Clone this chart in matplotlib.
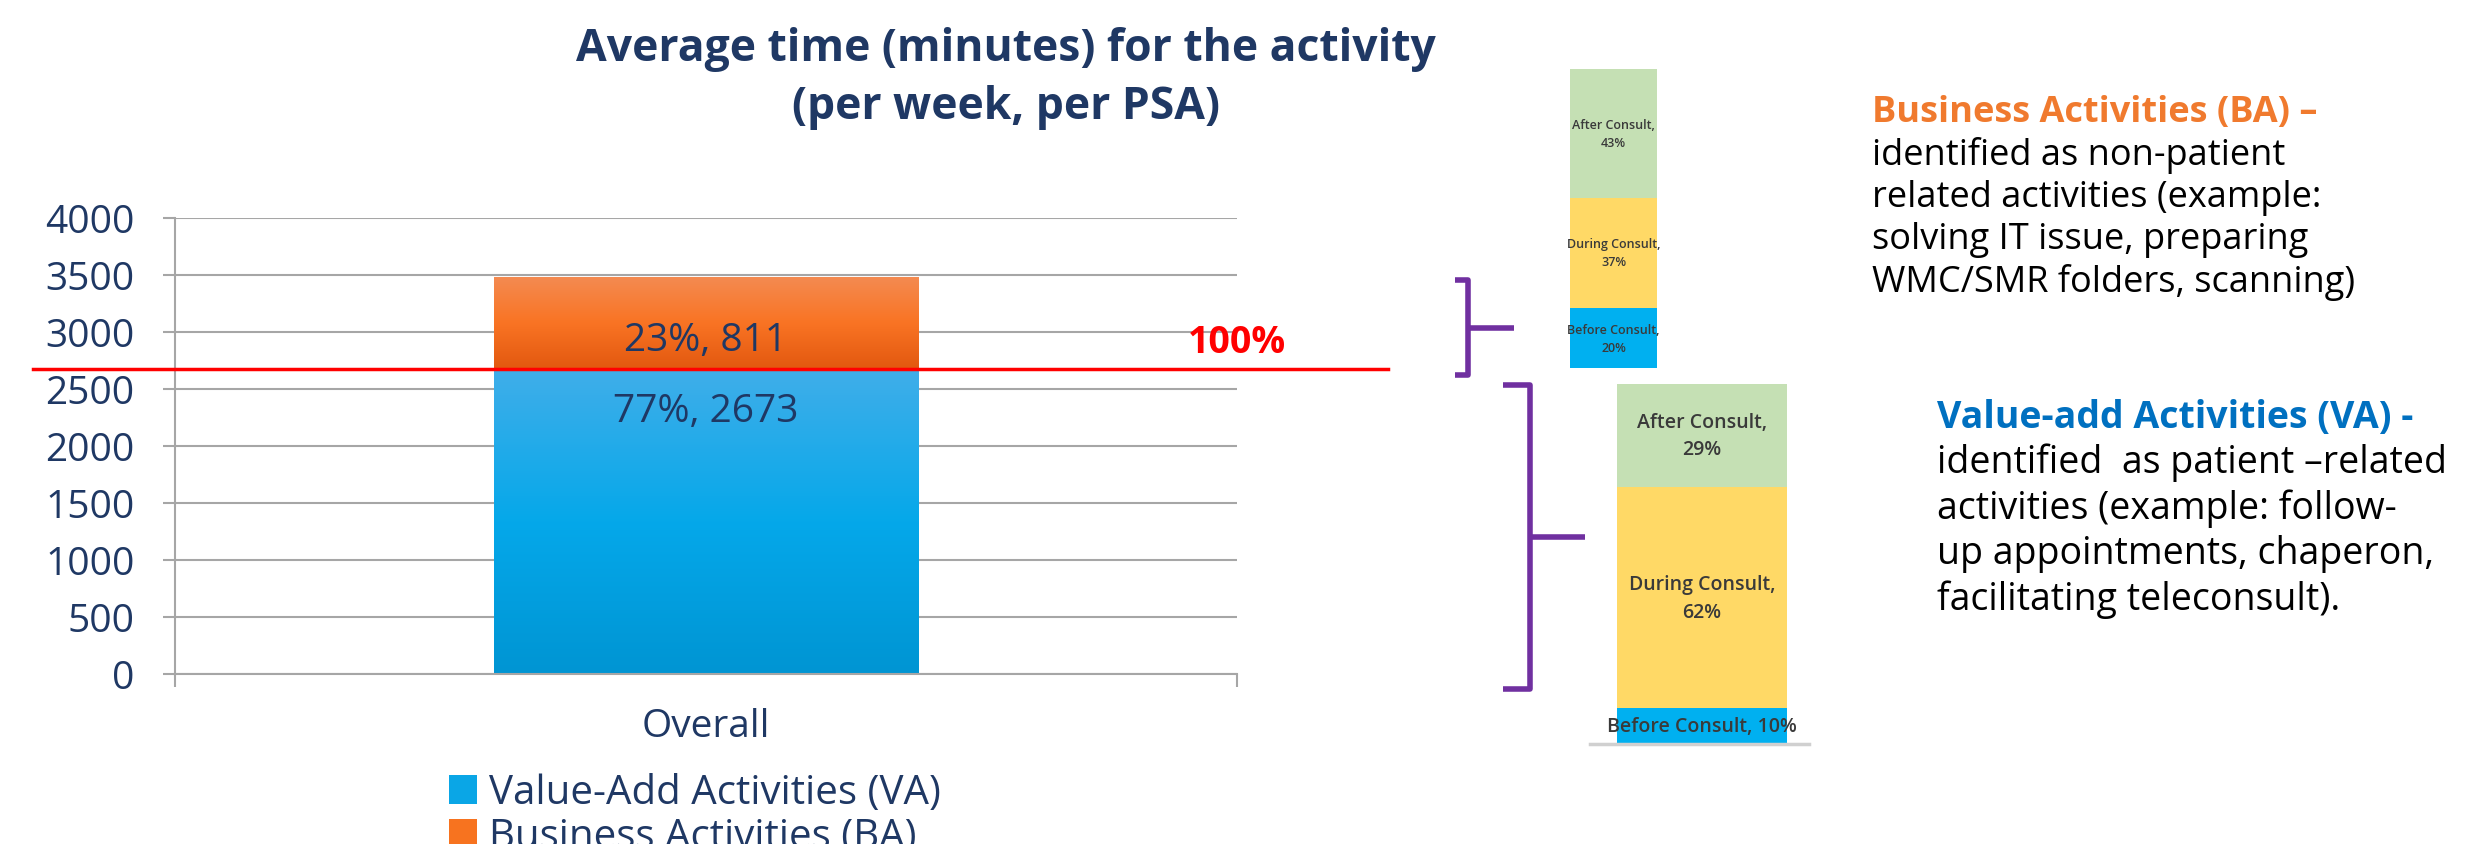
import numpy as np
import matplotlib.pyplot as plt
from matplotlib.colors import LinearSegmentedColormap
from matplotlib.lines import Line2D

plt.rcParams['font.family'] = ['Open Sans', 'DejaVu Sans']

# main chart data
category = ['Overall']
series = ['Value-Add Activities (VA)', 'Business Activities (BA)']
minutes = [2673, 811]
share = [77, 23]

# breakdown of each activity type (bottom to top)
parts = ['Before Consult', 'During Consult', 'After Consult']
ba_parts = [20, 37, 43]
va_parts = [10, 62, 29]

W, H = 2486, 845
navy = '#1F3864'
fig = plt.figure(figsize=(W / 100, H / 100), dpi=100)


def fx(px):
    return px / W


def fy(py):
    return 1 - py / H


def gradient_fill(ax, patch, colors):
    x0, y0 = patch.get_x(), patch.get_y()
    w, h = patch.get_width(), patch.get_height()
    cmap = LinearSegmentedColormap.from_list('g', colors)
    grad = np.linspace(0, 1, 256).reshape(-1, 1)
    im = ax.imshow(grad, cmap=cmap, extent=(x0, x0 + w, y0, y0 + h),
                   origin='lower', aspect='auto', zorder=2.1)
    im.set_clip_path(patch)


# ---- main stacked bar ----
ax = fig.add_axes([fx(175), fy(675), fx(1062), 456 / H])
x = np.arange(len(category))
b1 = ax.bar(x, [minutes[0]], width=0.4, color='#0AA6E6', label=series[0], zorder=2)
b2 = ax.bar(x, [minutes[1]], width=0.4, bottom=[minutes[0]], color='#F7731F',
            label=series[1], zorder=2)
gradient_fill(ax, b1[0], ['#0095D3', '#05A8EA', '#40AEE9'])
gradient_fill(ax, b2[0], ['#E2580F', '#F97424', '#F48B52'])

ax.set_xlim(-0.5, 0.5)
ax.set_ylim(0, 4000)
ax.set_yticks(np.arange(0, 4001, 500))
ax.set_xticks(x)
ax.set_xticklabels(category)
ax.set_xticks([-0.5, 0.5], minor=True)
ax.grid(axis='y', color='#A6A6A6', lw=1.5, zorder=0)
for s in ['top', 'right']:
    ax.spines[s].set_visible(False)
for s in ['left', 'bottom']:
    ax.spines[s].set_color('#A6A6A6')
    ax.spines[s].set_linewidth(1.5)
ax.tick_params(axis='y', length=9, width=1.5, color='#A6A6A6', pad=20,
               labelsize=28, labelcolor=navy)
ax.tick_params(axis='x', which='major', length=0, pad=24, labelsize=28, labelcolor=navy)
ax.tick_params(axis='x', which='minor', length=9, width=1.5, color='#A6A6A6')

ax.annotate(f'{share[0]}%, {minutes[0]}', xy=(0, minutes[0]), xytext=(0, -30),
            textcoords='offset points', ha='center', va='center',
            fontsize=28, color=navy, zorder=5)
ax.annotate(f'{share[1]}%, {minutes[1]}', xy=(0, minutes[0] + minutes[1] / 2),
            xytext=(0, -12), textcoords='offset points', ha='center', va='center',
            fontsize=28, color=navy, zorder=5)

# 100% reference line at the value-add level
ax.axhline(minutes[0], xmin=-0.134, xmax=1.142, color='#FF0000', lw=2.5,
           clip_on=False, zorder=6)
ax.text(1.0, minutes[0] + 240, '100%', transform=ax.get_yaxis_transform(),
        ha='center', va='center', fontsize=27, fontweight='bold', color='#FF0000')

# legend runs off the bottom edge, as on the original slide
ax.legend(loc='upper left', bbox_to_anchor=(fx(449), fy(774)),
          bbox_transform=fig.transFigure, frameon=False, fontsize=29,
          labelcolor=navy, handlelength=0.7, handleheight=0.7,
          handletextpad=0.3, labelspacing=0.08, borderpad=0, borderaxespad=0)

fig.text(fx(1006), fy(49), 'Average time (minutes) for the activity', ha='center',
         va='center', fontsize=32, fontweight='bold', color=navy)
fig.text(fx(1006), fy(108), '(per week, per PSA)', ha='center',
         va='center', fontsize=32, fontweight='bold', color=navy)

# ---- breakdown bars ----
part_colors = ['#00B0F0', '#FFD966', '#C5E0B4']


def breakdown(rect, values, fsize, one_line_below):
    a = fig.add_axes(rect)
    bottom = 0
    for v, name, c in zip(values, parts, part_colors):
        a.bar(0, v, width=1, bottom=bottom, color=c)
        txt = f'{name}, {v}%' if v < one_line_below else f'{name},\n{v}%'
        a.text(0, bottom + v / 2, txt, ha='center', va='center', fontsize=fsize,
               color='#3A3A3A', fontweight='semibold', linespacing=1.5)
        bottom += v
    a.set_xlim(-0.5, 0.5)
    a.set_ylim(0, bottom)
    a.axis('off')
    return a


breakdown([fx(1570), fy(369), fx(87), 299 / H], ba_parts, 9, 0)
va_ax = breakdown([fx(1617), fy(745), fx(170), 360 / H], va_parts, 14, 15)
va_ax.axhline(0, xmin=-0.16, xmax=1.13, color='#D0D0D0', lw=2.5, clip_on=False)


def bracket(xh, xs, xt, yt, yb):
    ym = (yt + yb) / 2
    for xs_, ys_ in [([xh, xs, xs, xh], [yt, yt, yb, yb]), ([xs, xt], [ym, ym])]:
        fig.add_artist(Line2D([fx(v) for v in xs_], [fy(v) for v in ys_],
                              color='#7030A0', lw=4, solid_joinstyle='round',
                              solid_capstyle='butt'))


bracket(1455, 1468, 1514, 281, 376)
bracket(1503, 1530, 1585, 386, 690)

# ---- explanatory text ----
ba_text = ['identified as non-patient', 'related activities (example:',
           'solving IT issue, preparing', 'WMC/SMR folders, scanning)']
va_text = ['identified  as patient \u2013related', 'activities (example: follow-',
           'up appointments, chaperon,', 'facilitating teleconsult).']

fig.text(fx(1872), fy(113), 'Business Activities (BA) \u2013', ha='left', va='center',
         fontsize=26, fontweight='bold', color='#F07A2E')
for i, line in enumerate(ba_text):
    fig.text(fx(1872), fy(155 + 42.5 * i), line, ha='left', va='center', fontsize=26,
             color='black')

fig.text(fx(1937), fy(418), 'Value-add Activities (VA) -', ha='left', va='center',
         fontsize=27, fontweight='bold', color='#0070C0')
for i, line in enumerate(va_text):
    fig.text(fx(1937), fy(463 + 45.5 * i), line, ha='left', va='center', fontsize=27,
             color='black')

fig.savefig('out.png', dpi=100)
